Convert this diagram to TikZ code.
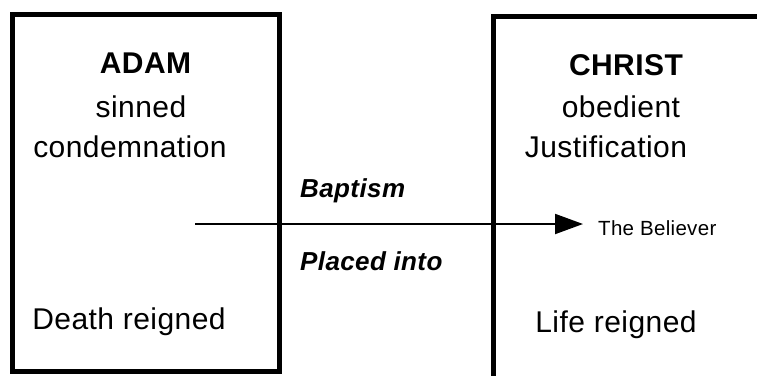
\documentclass[tikz,border=0pt]{standalone}
\usepackage{fontspec}
\setmainfont{Liberation Sans}[LetterSpace=1.5]
\usetikzlibrary{arrows.meta}

\begin{document}
\begin{tikzpicture}[x=1pt, y=-1pt,
    box/.style={line width=5pt},
    word/.style={anchor=base, inner sep=0pt, font=\fontsize{30}{34}\selectfont},
    heading/.style={word, font=\fontsize{30}{34}\selectfont\bfseries},
    passage/.style={anchor=base west, inner sep=0pt,
      font=\fontsize{26}{30}\selectfont\bfseries\itshape},
    pointer/.style={line width=2pt, -{Triangle[length=28pt, width=20pt]}}]
  \useasboundingbox (0,0) rectangle (757,375);

  % Left: Adam
  \draw[box] (12,14.5) rectangle (279,371);
  \node[heading] (adam) at (145.5,73) {ADAM};
  \node[word] (sinned) at (141,117) {sinned};
  \node[word] (condemn) at (130,157) {condemnation};
  \node[word] (death) at (129,329) {Death reigned};

  % Right: Christ (box runs off the page)
  \draw[box] (493.5,16.5) rectangle (790,379);
  \node[heading] (christ) at (626,75) {CHRIST};
  \node[word] (obedient) at (621,117) {obedient};
  \node[word] (justify) at (606,157) {Justification};
  \node[word] (life) at (616,332) {Life reigned};

  % Middle: the move across
  \node[passage] (baptism) at (300,197) {Baptism};
  \node[passage] (placed) at (300,270) {Placed into};
  \node[anchor=base west, inner sep=0pt, font=\fontsize{20.5}{24}\selectfont]
    (believer) at (598,235) {The Believer};
  \coordinate (src) at (195,224);
  \draw[pointer] (src) -- ([xshift=-15pt]src -| believer.west);
\end{tikzpicture}
\end{document}
